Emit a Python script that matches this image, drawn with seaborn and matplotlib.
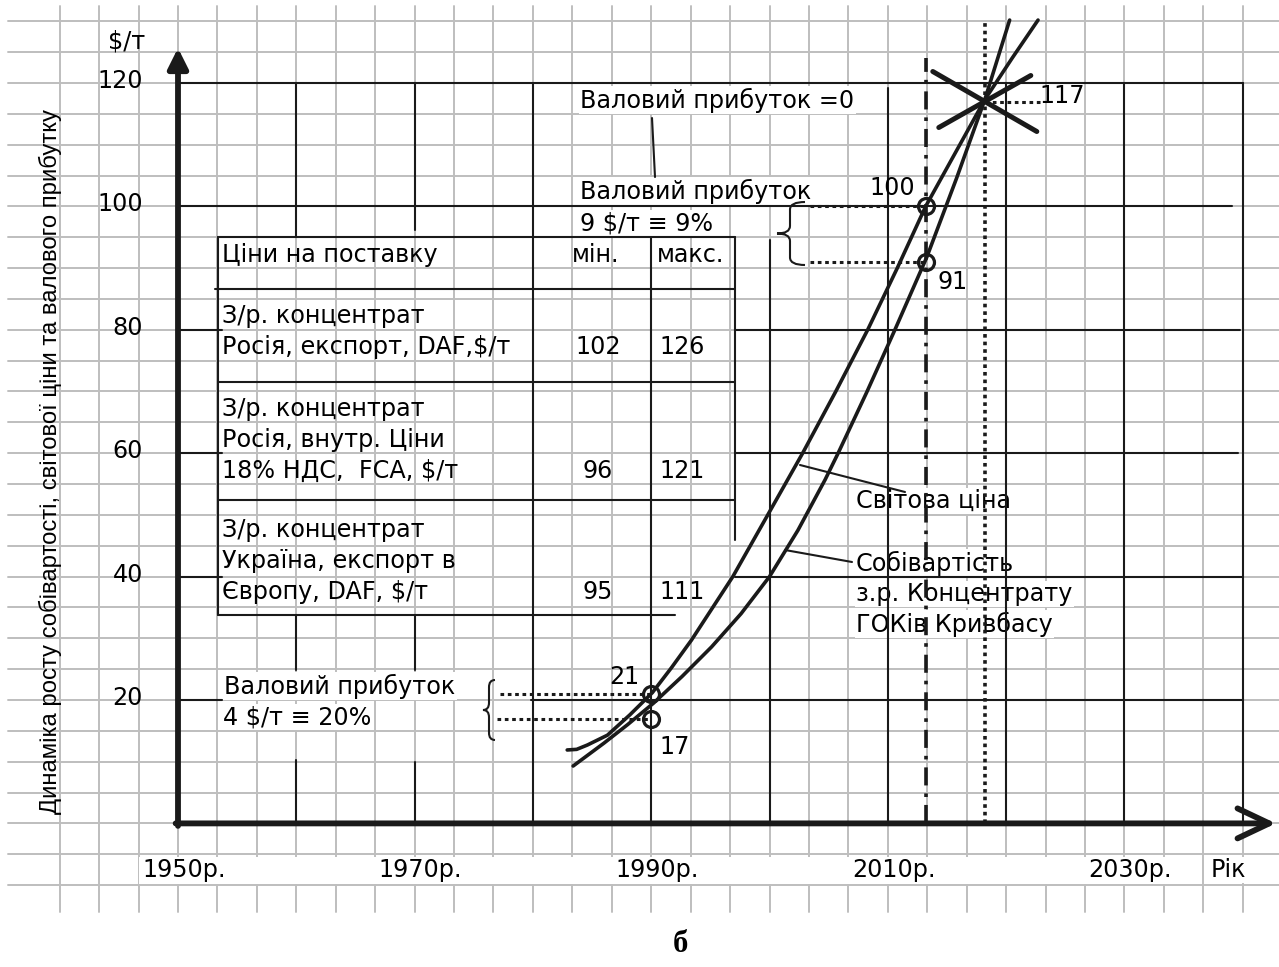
import matplotlib.pyplot as plt
import matplotlib.transforms as mtransforms
import seaborn as sns
from matplotlib.path import Path
from matplotlib.patches import PathPatch, Rectangle

# ---- values ----
world_years = [1982.9, 1983.7, 1984.6, 1986.3, 1988.2, 1990.1, 1991.7, 1993.4, 1996.9, 2000.0,
               2002.8, 2005.6, 2008.3, 2010.8, 2013.2, 2015.8, 2018.2, 2020.5, 2022.7]
world_price = [11.9, 12.0, 12.7, 14.3, 17.6, 21.2, 25.2, 29.7, 40.0, 50.5,
               60.0, 70.0, 80.0, 90.0, 100.0, 109.0, 117.3, 124.0, 130.2]

cost_years = [1983.4, 1986.0, 1988.0, 1990.2, 1992.6, 1995.1, 1997.6, 2000.0, 2002.4,
              2004.7, 2005.8, 2008.2, 2010.6, 2013.3, 2015.8, 2018.2, 2020.3]
cost_price = [9.3, 13.0, 16.0, 19.5, 23.8, 28.6, 34.0, 40.0, 47.5,
              55.7, 60.0, 69.8, 80.0, 91.8, 104.5, 117.3, 130.2]

marked_years = [1990.0, 1990.0, 2013.2, 2013.2, 2018.2]
marked_values = [21, 17, 100, 91, 117]
marked_labels = ['21', '17', '100', '91', '117']

y_ticks = [20, 40, 60, 80, 100, 120]
x_ticks = [1950, 1970, 1990, 2010, 2030]
x_tick_labels = ['1950р.', '1970р.', '1990р.', '2010р.', '2030р.']

y_label = 'Динаміка росту собівартості, світової ціни та валового прибутку'
table_header = ['Ціни на поставку', 'мін.', 'макс.']
table_names = [['З/р. концентрат', 'Росія, експорт, DAF,$/т'],
               ['З/р. концентрат', 'Росія, внутр. Ціни', '18% НДС,  FCA, $/т'],
               ['З/р. концентрат', 'Україна, експорт в', 'Європу, DAF, $/т']]
table_min = [102, 96, 95]
table_max = [126, 121, 111]

# ---- page geometry (pixels of the 1279x967 sheet) ----
W, H = 1279, 967
X0, SX = 178.0, 11.83   # pixel of 1950 and pixels per year
Y0, SY = 823.4, 6.17    # pixel of 0 $/т and pixels per $/т
FS = 17.2


def px(year, value):
    return X0 + (year - 1950) * SX, Y0 - value * SY


sns.set_theme(style='white')
plt.rcParams['font.family'] = ['DejaVu Sans']
plt.rcParams['text.color'] = 'black'

fig = plt.figure(figsize=(W / 100, H / 100), dpi=100)
ax = fig.add_axes([0, 0, 1, 1])
PX = mtransforms.Affine2D().scale(1 / W, -1 / H).translate(0, 1) + fig.transFigure

xmin, xmax = 1950 - X0 / SX, 1950 + (W - X0) / SX
GRAY = '#bebebe'

# graph paper
for k in range(31):
    x = 1940 + k * 10 / 3
    ax.plot([x, x], [-14.3, 132.5], color=GRAY, lw=1.4, zorder=1)
for v in range(-10, 131, 5):
    ax.plot([1950 - 170 / SX, xmax], [v, v], color=GRAY, lw=1.4, zorder=1)
ax.add_patch(Rectangle((139, 857), 1027, 27, transform=PX, fc='white', ec='none', zorder=1.5))

# black grid (interrupted by the table and the notes)
v_grid = {1960: [(95.0, 120), (24.9, 33.8), (0, 10.3)],
          1970: [(96.2, 120), (24.9, 33.8), (0, 10.0)],
          1980: [(0, 120)], 1990: [(0, 95.0)], 2000: [(0, 94.6)],
          2010: [(0, 119.2)], 2020: [(0, 120)], 2030: [(0, 120)], 2040: [(0, 120)]}
for yr, parts in v_grid.items():
    for a, b in parts:
        ax.plot([yr, yr], [a, b], color='k', lw=1.5, zorder=3)
h_grid = {120: [(1950, 2040)], 100: [(1950, 2039.1)],
          80: [(1950, 1953.7), (1997.1, 2039.8)], 60: [(1950, 1953.7), (1997.1, 2039.6)],
          40: [(1950, 1953.7), (1997.1, 2040)], 20: [(1950, 1953.7), (1979.8, 2040)]}
for v, parts in h_grid.items():
    for a, b in parts:
        ax.plot([a, b], [v, v], color='k', lw=1.5, zorder=3)

# table frame
for (xa, ya), (xb, yb) in [((218, 237), (735, 237)), ((218, 237), (218, 615)),
                           ((735, 237), (735, 540)), ((215, 289), (735, 289)),
                           ((218, 382), (735, 382)), ((218, 500), (735, 500)),
                           ((218, 615), (675, 615))]:
    ax.plot([xa, xb], [ya, yb], color='k', lw=1.5, transform=PX, zorder=3)

# axes with arrows
ax.annotate('', xy=(1950, (Y0 - 48) / SY), xytext=(1950, -0.4),
            arrowprops=dict(arrowstyle='-|>,head_length=1.0,head_width=0.5', lw=4.2,
                            color='k', shrinkA=0, shrinkB=0, mutation_scale=12), zorder=5)
ax.annotate('', xy=(1950 + (W - 3 - X0) / SX, 0), xytext=(1949.8, 0),
            arrowprops=dict(arrowstyle='->,head_length=1.9,head_width=0.9', lw=4.2,
                            color='k', shrinkA=0, shrinkB=0, mutation_scale=12), zorder=5)

# curves
sns.lineplot(x=world_years, y=world_price, sort=False, color='k', lw=2.6, ax=ax, zorder=4)
sns.lineplot(x=cost_years, y=cost_price, sort=False, color='k', lw=2.6, ax=ax, zorder=4)

# reference verticals
ax.plot([marked_years[2]] * 2, [0, 124], color='k', lw=2.6, dashes=(5, 2.2, 1, 2.2), zorder=3)
ax.plot([marked_years[4]] * 2, [0, 130], color='k', lw=2.6, dashes=(1, 1.1), zorder=3)

# dotted leaders to marked values
for yr0, yr1, v in [(2003.4, marked_years[2], marked_values[2]),
                    (2003.4, marked_years[3], marked_values[3]),
                    (1977.2, marked_years[0], marked_values[0]),
                    (1977.0, marked_years[1], marked_values[1]),
                    (marked_years[4], 2022.9, marked_values[4])]:
    ax.plot([yr0, yr1], [v, v], color='k', lw=2.2, dashes=(1.2, 1.2), zorder=3)

# crossing mark
cx, cy = px(marked_years[4], marked_values[4])
for dx, dy in [(52, 30), (46, -26)]:
    ax.plot([cx - dx, cx + dx], [cy - dy, cy + dy], color='k', lw=3.6, transform=PX, zorder=5)

# circles and their numbers
ax.plot(marked_years[:4], marked_values[:4], ls='none', marker='o', ms=11.5,
        mfc='none', mec='k', mew=2.3, zorder=6)
offsets = [(-27, 17), (23, -28), (-33, 18), (27, -20), (55, 6)]
for yr, v, lab, (ox, oy) in zip(marked_years, marked_values, marked_labels, offsets):
    ha = 'left' if lab == '117' else 'center'
    ax.annotate(lab, (yr, v), xytext=(ox, oy), textcoords='offset pixels',
                ha=ha, va='center', fontsize=FS, zorder=6)


def brace(xl, xm, xr, yt, yb):
    ym = (yt + yb) / 2
    r = (yb - yt) * 0.12
    verts = [(xr, yt), (xm, yt), (xm, yt + r), (xm, ym - r), (xm, ym), (xl, ym),
             (xm, ym), (xm, ym + r), (xm, yb - r), (xm, yb), (xr, yb)]
    codes = [Path.MOVETO, Path.CURVE3, Path.CURVE3, Path.LINETO, Path.CURVE3, Path.CURVE3,
             Path.CURVE3, Path.CURVE3, Path.LINETO, Path.CURVE3, Path.CURVE3]
    ax.add_patch(PathPatch(Path(verts, codes), transform=PX, fill=False,
                           ec='k', lw=1.5, zorder=3))


brace(777, 790, 805, 202, 265)
brace(483, 489, 495, 680, 740)

# notes
box = dict(facecolor='white', edgecolor='none', pad=1)
notes = [('Валовий прибуток =0', 580, 100), ('Валовий прибуток', 580, 191),
         ('9 $/т ≡ 9%', 580, 223), ('Валовий прибуток', 224, 686),
         ('4 $/т ≡ 20%', 223, 717), ('Світова ціна', 856, 501),
         ('Собівартість', 856, 563), ('з.р. Концентрату', 856, 594),
         ('ГОКів Кривбасу', 856, 624)]
for s, x, y in notes:
    ax.text(x, y, s, transform=PX, ha='left', va='center', fontsize=FS, bbox=box, zorder=2)
for (xa, ya), (xb, yb) in [((652, 118), (655, 177)), ((800, 465), (905, 492)),
                           ((785, 550), (852, 562))]:
    ax.plot([xa, xb], [ya, yb], color='k', lw=1.5, transform=PX, zorder=3)

# table text
ax.text(222, 255, table_header[0], transform=PX, ha='left', va='center', fontsize=FS)
ax.text(596, 255, table_header[1], transform=PX, ha='center', va='center', fontsize=FS)
ax.text(657, 255, table_header[2], transform=PX, ha='left', va='center', fontsize=FS)
row_top = [316, 409, 530]
for names, lo, hi, y in zip(table_names, table_min, table_max, row_top):
    for i, s in enumerate(names):
        ax.text(222, y + i * 31, s, transform=PX, ha='left', va='center', fontsize=FS)
    y_last = y + (len(names) - 1) * 31
    ax.text(598, y_last, str(lo), transform=PX, ha='center', va='center', fontsize=FS)
    ax.text(659, y_last, str(hi), transform=PX, ha='left', va='center', fontsize=FS)

# axis texts
for v in y_ticks:
    ax.text(143, Y0 - v * SY - 2, str(v), transform=PX, ha='right', va='center', fontsize=FS)
ax.text(108, 42, '$/т', transform=PX, ha='left', va='center', fontsize=FS)
for yr, lab in zip(x_ticks, x_tick_labels):
    ax.text(px(yr, 0)[0] + 6, 870, lab, transform=PX, ha='center', va='center', fontsize=FS)
ax.text(1211, 870, 'Рік', transform=PX, ha='left', va='center', fontsize=FS, bbox=box)
ax.text(50, 462, y_label, transform=PX, rotation=90, ha='center', va='center',
        fontsize=17.2, family=['Liberation Sans', 'DejaVu Sans'])
ax.text(680, 945, 'б', transform=PX, ha='center', va='center', fontsize=22,
        family=['Liberation Serif', 'DejaVu Serif'], fontweight='bold')

ax.set_xlim(xmin, xmax)
ax.set_ylim((Y0 - H) / SY, Y0 / SY)
ax.axis('off')

fig.savefig('out.png', dpi=100, facecolor='white')
